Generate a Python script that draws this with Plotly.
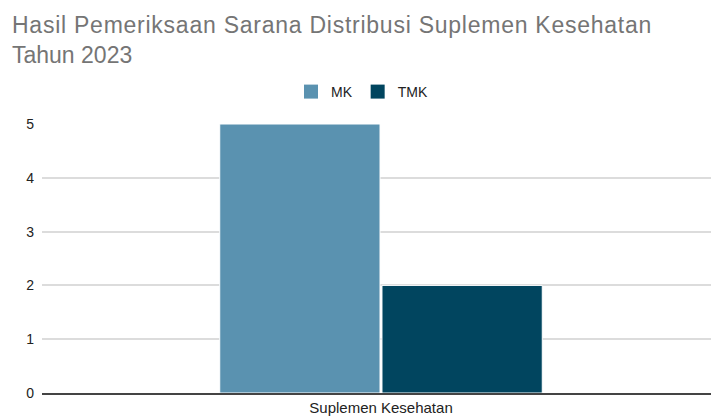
import plotly.graph_objects as go

categories = ["Suplemen Kesehatan"]
mk_values = [5]
tmk_values = [2]
series_names = ["MK", "TMK"]
colors = ["#5a92b0", "#01455f"]
title_lines = ["Hasil Pemeriksaan Sarana Distribusi Suplemen Kesehatan", "Tahun 2023"]

fig = go.Figure()
for name, vals, c in zip(series_names, [mk_values, tmk_values], colors):
    fig.add_trace(go.Bar(x=categories, y=vals, name=name, marker_color=c,
                         marker_line=dict(color="white", width=1), showlegend=False))
# legend entries with larger square swatches
for name, c in zip(series_names, colors):
    fig.add_trace(go.Scatter(x=[None], y=[None], mode="markers", name=name,
                             marker=dict(symbol="square", size=14, color=c, line=dict(width=0))))

W, H = 711, 416
l, r, t, b = 42, 0, 124, 23
pw = W - l - r
ph = H - t - b
r0 = -(381 - l) / pw

spacing = ["0.75px", "0px"]
for i, line in enumerate(title_lines):
    fig.add_annotation(text=f"<span style='letter-spacing:{spacing[i]}'>{line}</span>",
                       xref="paper", yref="paper",
                       x=(10 - l) / pw, xanchor="left",
                       y=1 + (t - (25 + 30 * i)) / ph, yanchor="middle",
                       showarrow=False, font=dict(size=23, color="#757575"))

fig.update_layout(
    width=W, height=H,
    margin=dict(l=l, r=r, t=t, b=b),
    paper_bgcolor="white", plot_bgcolor="white",
    font=dict(family="Liberation Sans, Arial, sans-serif", size=14, color="#222"),
    barmode="group", bargap=0.515, bargroupgap=0.012,
    showlegend=True,
    legend=dict(orientation="h", x=(362 - l) / pw, xanchor="center", y=1 + 32 / ph, yanchor="middle",
                font=dict(size=14, color="#222"), itemwidth=30),
    xaxis=dict(range=[r0, r0 + 1], showgrid=False, showline=True, linecolor="#444", linewidth=1.5,
               ticks="", tickfont=dict(size=15, color="#222"), ticklabelstandoff=0),
    yaxis=dict(range=[0, 5], dtick=1, showgrid=True, gridcolor="#dcdcdc", gridwidth=1.5, zeroline=False,
               ticks="", tickfont=dict(size=14, color="#222"), ticklabelstandoff=7),
)
fig.write_html("out.html", config={"displayModeBar": False},
               post_script="document.body.style.margin='0';")
